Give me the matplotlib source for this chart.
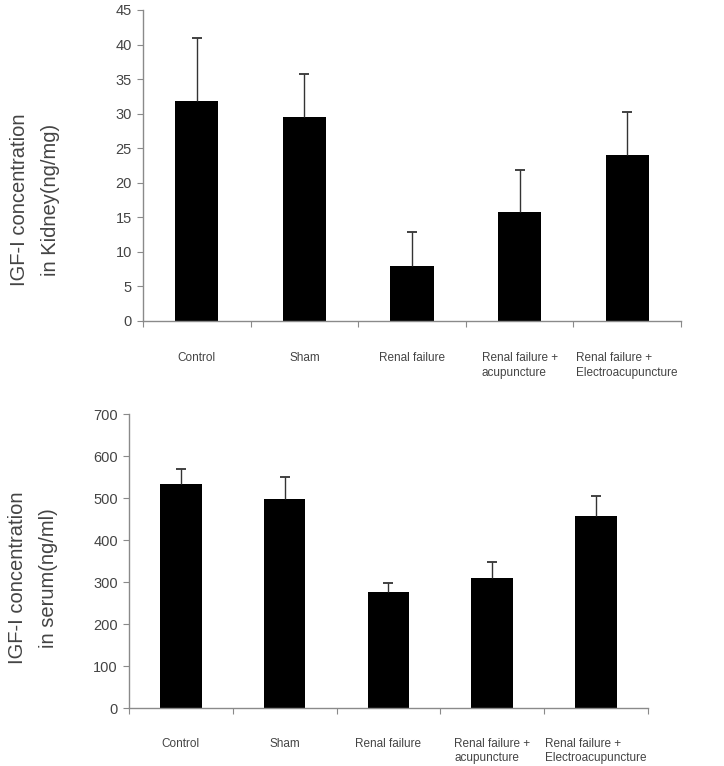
import matplotlib
matplotlib.use("Agg")
import matplotlib.pyplot as plt
import numpy as np

categories = ["Control", "Sham", "Renal failure", "Renal failure +\nacupuncture",
              "Renal failure +\nElectroacupuncture"]
kidney_mean = [31.8, 29.5, 7.9, 15.7, 24.0]
kidney_err = [9.1, 6.3, 4.9, 6.2, 6.2]
serum_mean = [534, 498, 277, 311, 457]
serum_err = [35, 52, 22, 37, 48]

plt.rcParams['font.family'] = ['Liberation Sans', 'DejaVu Sans']

fig = plt.figure(figsize=(7.24, 7.66), dpi=100)
ax1 = fig.add_axes([0.1975, 0.581, 0.7431, 0.406])
ax2 = fig.add_axes([0.178, 0.0753, 0.717, 0.3842])

spine_c = "#8a8a8a"
text_c = "#444444"

def draw(ax, means, errs, ymax, ystep):
    x = np.arange(len(categories))
    ax.bar(x, means, width=0.4, color="black", zorder=2)
    eb = ax.errorbar(x, means, yerr=[np.zeros(len(means)), errs], fmt="none",
                     ecolor="#333333", elinewidth=1.0, capsize=3.6, capthick=1.3, zorder=3)
    caps = eb[1]
    if len(caps) == 2:
        caps[0].set_visible(False)
    ax.set_xlim(-0.5, len(categories) - 0.5)
    ax.set_ylim(0, ymax)
    ax.set_yticks(np.arange(0, ymax + 0.1, ystep))
    ax.set_xticks(np.arange(-0.5, len(categories), 1.0))
    ax.set_xticklabels([])
    for s in ["top", "right"]:
        ax.spines[s].set_visible(False)
    for s in ["left", "bottom"]:
        ax.spines[s].set_color(spine_c)
        ax.spines[s].set_linewidth(1.0)
    ax.tick_params(axis="y", colors=spine_c, labelcolor=text_c, labelsize=10.5,
                   length=4, direction="out", pad=4)
    ax.tick_params(axis="x", colors=spine_c, length=4, direction="out")
    for i, c in enumerate(categories):
        ax.text(i, -0.1, c, transform=ax.get_xaxis_transform(), ha="center",
                va="top", fontsize=8.5, color=text_c, linespacing=1.3,
                multialignment="left")

draw(ax1, kidney_mean, kidney_err, 45, 5)
draw(ax2, serum_mean, serum_err, 700, 100)

fig.text(35 / 724, 1 - 200 / 766, "IGF-I concentration\nin Kidney(ng/mg)", rotation=90,
         ha="center", va="center", fontsize=14.5, color=text_c, linespacing=1.75,
         multialignment="center")
fig.text(33 / 724, 1 - 578 / 766, "IGF-I concentration\nin serum(ng/ml)", rotation=90,
         ha="center", va="center", fontsize=14.5, color=text_c, linespacing=1.75,
         multialignment="center")

fig.savefig("out.png", dpi=100, facecolor="white")
